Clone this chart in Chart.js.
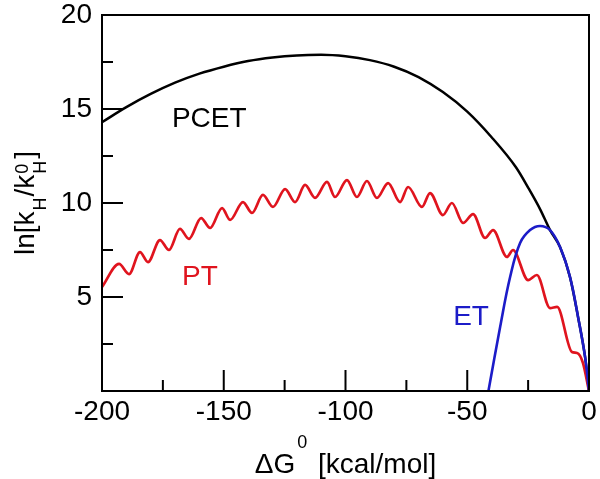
<!DOCTYPE html>
<html>
<head>
<meta charset="utf-8">
<script src="https://cdn.jsdelivr.net/npm/chart.js@4.4.1/dist/chart.umd.min.js"></script>
<style>
  html, body { margin: 0; padding: 0; background: #fff; }
  #c { display: block; }
</style>
</head>
<body>
<canvas id="c" width="600" height="479"></canvas>
<script>
// PCET (black)
const pcetX = [-200, -190, -180, -170, -160, -150, -140, -130, -120, -110, -100, -90, -80, -70, -60, -50, -40, -30, -25, -20, -16, -11.9, -7.8, -4.5, -1.6, 0];
const pcetY = [14.3, 15.1, 15.8, 16.4, 16.88, 17.25, 17.55, 17.74, 17.85, 17.88, 17.8, 17.6, 17.25, 16.7, 15.9, 14.86, 13.5, 11.9, 10.82, 9.65, 8.56, 7.66, 6.06, 3.94, 1.8, 0];

// PT (red) - peaks and troughs
const ptX = [-200, -193, -188.9, -184.4, -181.1, -176.2, -172.5, -168, -164.3, -159.3, -155.6, -150.7, -147.4, -142.1, -138.4, -133.9, -129.8, -124.8, -120.7, -116.6, -112.5, -107.6, -104.3, -99.4, -95.3, -91.2, -87.1, -82.5, -77.6, -74.3, -68.6, -65.3, -60, -56.3, -51.7, -47.6, -42.7, -39.4, -33.7, -31.2, -25, -21.4, -16, -13.1, -7, -4.9, -2.5, 0];
const ptY = [5.53, 6.76, 6.22, 7.39, 6.86, 8.03, 7.5, 8.62, 8.09, 9.2, 8.67, 9.73, 9.1, 10.05, 9.47, 10.43, 9.79, 10.74, 10.05, 10.96, 10.27, 11.12, 10.32, 11.22, 10.32, 11.17, 10.27, 11.06, 10.05, 10.85, 9.79, 10.53, 9.36, 10.0, 8.94, 9.41, 8.14, 8.56, 7.13, 7.5, 5.9, 6.17, 4.41, 4.47, 2.07, 2.02, 1.5, 0];

// ET (blue)
const etX = [-41.3, -36.5, -32.4, -28.3, -24.2, -20.1, -16, -11.9, -7.8, -4.5, -1.6, 0];
const etY = [0, 3.4, 6.06, 7.87, 8.56, 8.78, 8.56, 7.66, 6.06, 3.94, 1.8, 0];

// in-plot labels (data coordinates of left/baseline)
const labelText = ['PCET', 'PT', 'ET'];
const labelX = [-171.3, -167.1, -55.8];
const labelY = [14.04, 5.64, 3.51];
const labelColor = ['#000000', '#e0141e', '#1c1cc8'];

const xTicks = [-200, -150, -100, -50, 0];
const xMinor = [-175, -125, -75, -25];
const yTicks = [5, 10, 15, 20];
const yMinor = [2.5, 7.5, 12.5, 17.5];

const FONT = '"Liberation Sans", Arial, sans-serif';

function pts(xs, ys) {
    return xs.map((x, i) => ({ x: x, y: ys[i] }));
}

// rich text: segments {t, size, dy, gap, stack}
function drawRich(ctx, segs, color) {
    let x = 0, lastW = 0, lastX = 0;
    const placed = [];
    segs.forEach(s => {
        ctx.font = s.size + 'px ' + FONT;
        const w = ctx.measureText(s.t).width;
        if (s.stack) {
            placed.push({ s, x: lastX });
            lastW = Math.max(lastW, w);
            x = lastX + lastW;
        } else {
            lastX = x + (s.gap || 0);
            placed.push({ s, x: lastX });
            lastW = w;
            x = lastX + w;
        }
    });
    const total = x;
    ctx.fillStyle = color;
    ctx.textBaseline = 'alphabetic';
    ctx.textAlign = 'left';
    placed.forEach(p => {
        ctx.font = p.s.size + 'px ' + FONT;
        ctx.fillText(p.s.t, p.x - total / 2, p.s.dy || 0);
    });
}

const decor = {
    id: 'decor',
    afterDraw(chart) {
        const ctx = chart.ctx;
        const a = chart.chartArea;
        const xs = chart.scales.x, ys = chart.scales.y;
        ctx.save();
        ctx.strokeStyle = '#000';
        ctx.lineWidth = 2;
        ctx.strokeRect(a.left, a.top, a.right - a.left, a.bottom - a.top);
        ctx.beginPath();
        xTicks.forEach(v => { const p = xs.getPixelForValue(v); ctx.moveTo(p, a.bottom); ctx.lineTo(p, a.bottom - 21); });
        xMinor.forEach(v => { const p = xs.getPixelForValue(v); ctx.moveTo(p, a.bottom); ctx.lineTo(p, a.bottom - 11); });
        yTicks.forEach(v => { const p = ys.getPixelForValue(v); ctx.moveTo(a.left, p); ctx.lineTo(a.left + 21, p); });
        yMinor.forEach(v => { const p = ys.getPixelForValue(v); ctx.moveTo(a.left, p); ctx.lineTo(a.left + 11, p); });
        ctx.stroke();

        // curve labels
        ctx.font = '28px ' + FONT;
        ctx.textAlign = 'left';
        ctx.textBaseline = 'alphabetic';
        labelText.forEach((t, i) => {
            ctx.fillStyle = labelColor[i];
            ctx.fillText(t, xs.getPixelForValue(labelX[i]), ys.getPixelForValue(labelY[i]));
        });

        // x title
        ctx.save();
        ctx.translate((a.left + a.right) / 2, 473);
        drawRich(ctx, [
            { t: '\u0394G', size: 28 },
            { t: '0', size: 18, dy: -25, gap: 2 },
            { t: ' [kcal/mol]', size: 28, gap: 3 }
        ], '#000');
        ctx.restore();

        // y title
        ctx.save();
        ctx.translate(34, (a.top + a.bottom) / 2);
        ctx.rotate(-Math.PI / 2);
        drawRich(ctx, [
            { t: 'ln[k', size: 28 },
            { t: 'H', size: 18, dy: 12, gap: 1 },
            { t: '/k', size: 28, gap: 1 },
            { t: 'H', size: 18, dy: 12, gap: 1 },
            { t: '0', size: 18, dy: -6, stack: true },
            { t: ']', size: 28, gap: 2 }
        ], '#000');
        ctx.restore();
        ctx.restore();
    }
};

// first dataset is drawn on top: ET over PT over PCET
new Chart(document.getElementById('c').getContext('2d'), {
    type: 'scatter',
    data: {
        datasets: [
            { data: pts(etX, etY), borderColor: '#1c1cc8', borderWidth: 2.6, showLine: true, pointRadius: 0, tension: 0.4 },
            { data: pts(ptX, ptY), borderColor: '#e0141e', borderWidth: 2.7, showLine: true, pointRadius: 0, cubicInterpolationMode: 'monotone' },
            { data: pts(pcetX, pcetY), borderColor: '#000000', borderWidth: 2.5, showLine: true, pointRadius: 0, cubicInterpolationMode: 'monotone' }
        ]
    },
    options: {
        responsive: false,
        animation: false,
        devicePixelRatio: 1,
        layout: { padding: { top: 15, right: 11, left: 0, bottom: 0 } },
        plugins: { legend: { display: false }, tooltip: { enabled: false } },
        scales: {
            x: {
                type: 'linear', min: -200, max: 0,
                afterFit: s => { s.height = 88; s.paddingLeft = 0; s.paddingRight = 0; },
                afterBuildTicks: s => { s.ticks = xTicks.map(v => ({ value: v })); },
                grid: { display: false, drawTicks: false },
                border: { display: false },
                ticks: { font: { family: FONT, size: 28 }, color: '#000', padding: 4, maxRotation: 0 }
            },
            y: {
                type: 'linear', min: 0, max: 20,
                afterFit: s => { s.width = 102; s.paddingTop = 0; s.paddingBottom = 0; },
                afterBuildTicks: s => { s.ticks = yTicks.map(v => ({ value: v })); },
                grid: { display: false, drawTicks: false },
                border: { display: false },
                ticks: { font: { family: FONT, size: 28 }, color: '#000', padding: 10 }
            }
        }
    },
    plugins: [decor]
});
</script>
</body>
</html>
